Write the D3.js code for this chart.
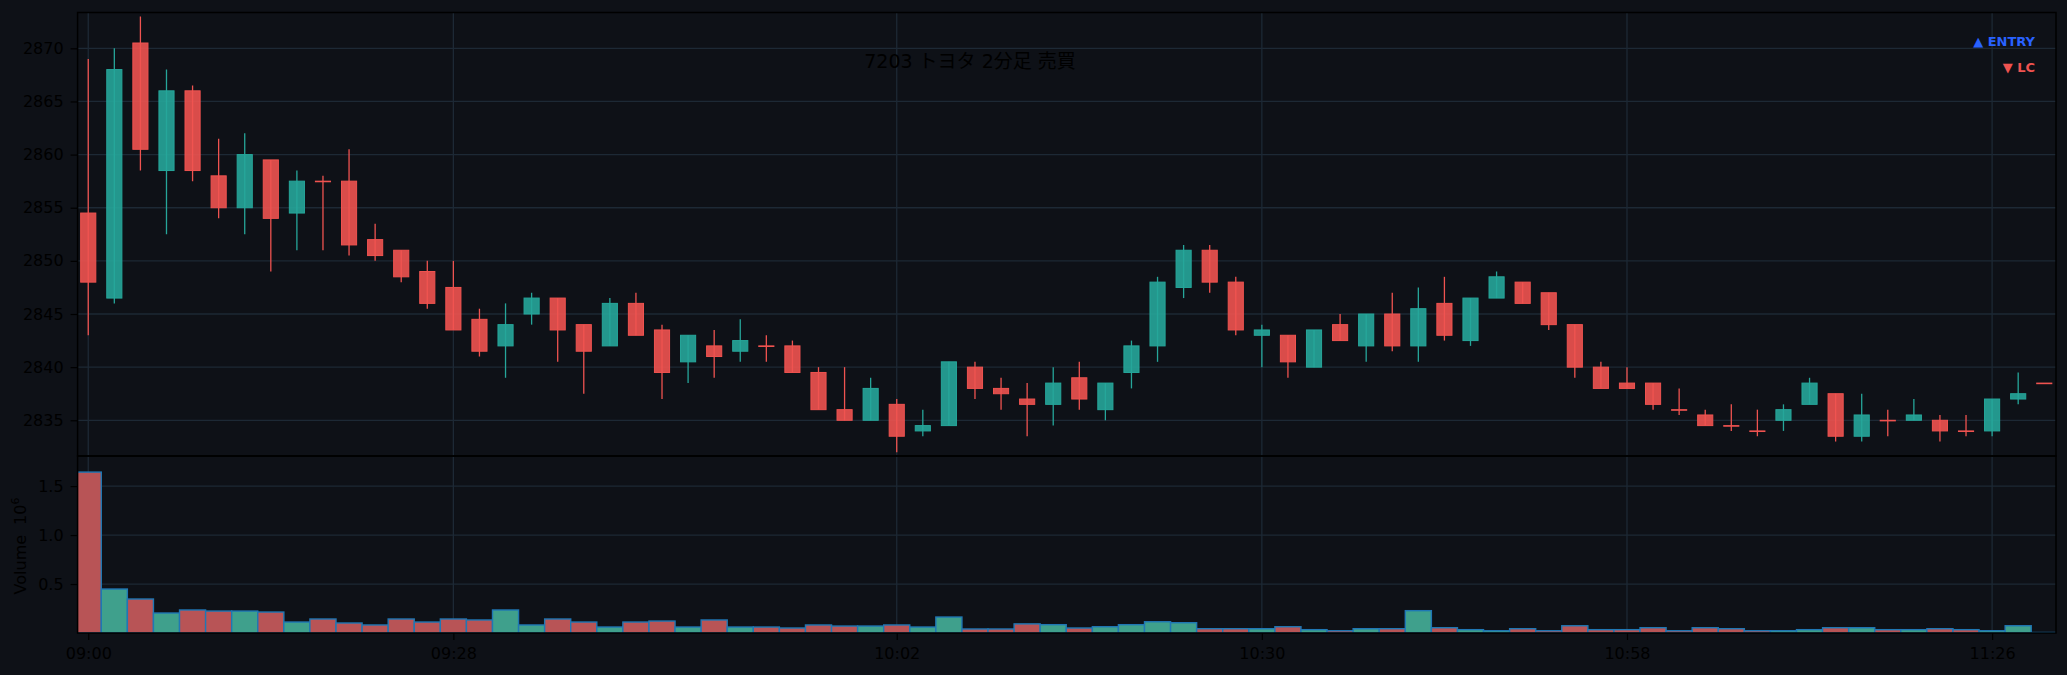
<!DOCTYPE html>
<html>
<head>
<meta charset="utf-8">
<script src="https://cdn.jsdelivr.net/npm/d3@7"></script>
<style>
  html, body { margin: 0; padding: 0; background: #0e1117; }
  svg { display: block; }
</style>
</head>
<body>
<div id="chart"></div>
<script>
// 2分足データ (09:00 - 11:30)
const times = [
  "09:00","09:02","09:04","09:06","09:08","09:10","09:12","09:14","09:16","09:18",
  "09:20","09:22","09:24","09:26","09:28","09:30","09:32","09:34","09:36","09:38",
  "09:40","09:42","09:44","09:46","09:48","09:50","09:52","09:54","09:56","09:58",
  "10:00","10:02","10:04","10:06","10:08","10:10","10:12","10:14","10:16","10:18",
  "10:20","10:22","10:24","10:26","10:28","10:30","10:32","10:34","10:36","10:38",
  "10:40","10:42","10:44","10:46","10:48","10:50","10:52","10:54","10:56","10:58",
  "11:00","11:02","11:04","11:06","11:08","11:10","11:12","11:14","11:16","11:18",
  "11:20","11:22","11:24","11:26","11:28","11:30"
];
const opens = [
  2854.5,2846.5,2870.5,2858.5,2866,2858,2855,2859.5,2854.5,2857.5,
  2857.5,2852,2851,2849,2847.5,2844.5,2842,2845,2846.5,2844,
  2842,2846,2843.5,2840.5,2842,2841.5,2842,2842,2839.5,2836,
  2835,2836.5,2834,2834.5,2840,2838,2837,2836.5,2839,2836,
  2839.5,2842,2847.5,2851,2848,2843,2843,2840,2844,2842,
  2845,2842,2846,2842.5,2846.5,2848,2847,2844,2840,2838.5,
  2838.5,2836,2835.5,2834.5,2834,2835,2836.5,2837.5,2833.5,2835,
  2835,2835,2834,2834,2837,2838.5
];
const highs = [
  2869,2870,2873,2868,2866.5,2861.5,2862,2859.5,2858.5,2858,
  2860.5,2853.5,2851,2850,2850,2845.5,2846,2847,2846.5,2844,
  2846.5,2847,2844,2843,2843.5,2844.5,2843,2842.5,2840,2840,
  2839,2837,2836,2840.5,2840.5,2839,2838.5,2840,2840.5,2838.5,
  2842.5,2848.5,2851.5,2851.5,2848.5,2844,2843,2843.5,2845,2845,
  2847,2847.5,2848.5,2846.5,2849,2848,2847,2844,2840.5,2840,
  2838.5,2838,2836,2836.5,2836,2836.5,2839,2837.5,2837.5,2836,
  2837,2835.5,2835.5,2837,2839.5,2838.5
];
const lows = [
  2843,2846,2858.5,2852.5,2857.5,2854,2852.5,2849,2851,2851,
  2850.5,2850,2848,2845.5,2843.5,2841,2839,2844,2840.5,2837.5,
  2842,2843,2837,2838.5,2839,2840.5,2840.5,2839.5,2836,2835,
  2835,2832,2833.5,2834.5,2837,2836,2833.5,2834.5,2836,2835,
  2838,2840.5,2846.5,2847,2843,2840,2839,2840,2842.5,2840.5,
  2841.5,2840.5,2842.5,2842,2846.5,2846,2843.5,2839,2838,2838,
  2836,2835.5,2834.5,2834,2833.5,2834,2836.5,2833,2833,2833.5,
  2835,2833,2833.5,2833.5,2836.5,2838.5
];
const closes = [
  2848,2868,2860.5,2866,2858.5,2855,2860,2854,2857.5,2857.5,
  2851.5,2850.5,2848.5,2846,2843.5,2841.5,2844,2846.5,2843.5,2841.5,
  2846,2843,2839.5,2843,2841,2842.5,2842,2839.5,2836,2835,
  2838,2833.5,2834.5,2840.5,2838,2837.5,2836.5,2838.5,2837,2838.5,
  2842,2848,2851,2848,2843.5,2843.5,2840.5,2843.5,2842.5,2845,
  2842,2845.5,2843,2846.5,2848.5,2846,2844,2840,2838,2838,
  2836.5,2836,2834.5,2834.5,2834,2836,2838.5,2833.5,2835.5,2835,
  2835.5,2834,2834,2837,2837.5,2838.5
];
const volumes = [
  1643000,449000,347000,204000,235000,224000,224000,214000,112000,143000,
  102000,82000,143000,112000,143000,133000,235000,82000,143000,112000,
  61000,112000,122000,61000,133000,61000,61000,51000,82000,71000,
  71000,82000,61000,163000,41000,41000,93000,85000,51000,64000,
  85000,115000,105000,44000,44000,44000,64000,34000,23000,44000,
  44000,228000,54000,34000,23000,44000,23000,74000,34000,34000,
  54000,23000,54000,44000,23000,23000,34000,54000,54000,34000,
  34000,44000,34000,23000,74000,5000
];

// 目盛り
const xTickLabels = ["09:00", "09:28", "10:02", "10:30", "10:58", "11:26"];
const priceTicks = [2835, 2840, 2845, 2850, 2855, 2860, 2865, 2870];
const volumeTicks = [500000, 1000000, 1500000];

const title = "7203 トヨタ 2分足 売買";

// サイズ
const W = 2067, H = 675;
const left = 77.6, right = 2056;
const topY = 12.5, splitY = 456, bottomY = 633;

const bg = "#0e1117";
const upColor = "#26a69a", downColor = "#ef5350";
const upVol = "#3fa08c", downVol = "#b85456";
const gridColor = "#1d2935";
const font = "'DejaVu Sans', 'Noto Sans CJK JP', sans-serif";

const parseTime = d3.timeParse("%H:%M");
const data = times.map((t, i) => ({
  time: parseTime(t), o: opens[i], h: highs[i], l: lows[i], c: closes[i], v: volumes[i]
}));
const isUp = d => d.c > d.o;

const svg = d3.select("#chart").append("svg").attr("width", W).attr("height", H);
svg.append("rect").attr("width", W).attr("height", H).attr("fill", bg);

// スケール
const x = d3.scaleTime()
  .domain([d3.timeSecond.offset(data[0].time, -49), d3.timeSecond.offset(data[data.length - 1].time, 54)])
  .range([left, right]);

const y = d3.scaleLinear()
  .domain([d3.min(lows) - 0.36, d3.max(highs) + 0.37])
  .range([splitY, topY]);

const yVol = d3.scaleLinear()
  .domain([0, d3.max(volumes) * 1.1])
  .range([bottomY, splitY]);

const xTicks = xTickLabels.map(parseTime);
const barW = x(parseTime("09:02")) - x(parseTime("09:00"));
const bodyW = barW * 0.58;

// clip
const defs = svg.append("defs");
defs.append("clipPath").attr("id", "clipPrice")
  .append("rect").attr("x", left).attr("y", topY).attr("width", right - left).attr("height", splitY - topY);
defs.append("clipPath").attr("id", "clipVol")
  .append("rect").attr("x", left).attr("y", splitY).attr("width", right - left).attr("height", bottomY - splitY);

// グリッド
const grid = svg.append("g").attr("stroke", gridColor).attr("stroke-width", 1.3);
grid.selectAll(".hp").data(priceTicks).join("line")
  .attr("x1", left).attr("x2", right).attr("y1", d => y(d)).attr("y2", d => y(d));
grid.selectAll(".hv").data(volumeTicks).join("line")
  .attr("x1", left).attr("x2", right).attr("y1", d => yVol(d)).attr("y2", d => yVol(d));
grid.selectAll(".vx").data(xTicks).join("line")
  .attr("x1", d => x(d)).attr("x2", d => x(d)).attr("y1", topY).attr("y2", bottomY);

// ローソク足
const price = svg.append("g").attr("clip-path", "url(#clipPrice)");
price.selectAll(".wick").data(data).join("line")
  .attr("x1", d => x(d.time)).attr("x2", d => x(d.time))
  .attr("y1", d => y(d.h)).attr("y2", d => y(d.l))
  .attr("stroke", d => isUp(d) ? upColor : downColor)
  .attr("stroke-width", 1.3);

price.selectAll(".body").data(data).join("rect")
  .attr("x", d => x(d.time) - bodyW / 2)
  .attr("y", d => y(Math.max(d.o, d.c)))
  .attr("width", bodyW)
  .attr("height", d => Math.max(y(Math.min(d.o, d.c)) - y(Math.max(d.o, d.c)), 0.6))
  .attr("fill", d => isUp(d) ? upColor : downColor)
  .attr("fill-opacity", 0.9)
  .attr("stroke", d => isUp(d) ? upColor : downColor)
  .attr("stroke-width", 1);

// 出来高
const vol = svg.append("g").attr("clip-path", "url(#clipVol)");
vol.selectAll("rect").data(data).join("rect")
  .attr("x", d => x(d.time) - barW / 2)
  .attr("y", d => yVol(d.v))
  .attr("width", barW)
  .attr("height", d => yVol(0) - yVol(d.v))
  .attr("fill", d => isUp(d) ? upVol : downVol)
  .attr("stroke", "#1f77b4")
  .attr("stroke-width", 1.4);

// 軸
const styleAxis = g => {
  g.select(".domain").remove();
  g.selectAll("line").attr("stroke", "#000").attr("stroke-width", 1.2);
  g.selectAll("text").attr("fill", "#000").attr("font-size", 16).attr("font-family", font);
};

svg.append("g")
  .attr("transform", `translate(${left},0)`)
  .call(d3.axisLeft(y).tickValues(priceTicks).tickSize(7).tickPadding(7).tickFormat(d3.format("d")))
  .call(styleAxis);

svg.append("g")
  .attr("transform", `translate(${left},0)`)
  .call(d3.axisLeft(yVol).tickValues(volumeTicks).tickSize(7).tickPadding(7).tickFormat(d => (d / 1e6).toFixed(1)))
  .call(styleAxis);

svg.append("g")
  .attr("transform", `translate(0,${bottomY})`)
  .call(d3.axisBottom(x).tickValues(xTicks).tickSize(7).tickPadding(8).tickFormat(d3.timeFormat("%H:%M")))
  .call(styleAxis);

// 枠線
[[topY, splitY], [splitY, bottomY]].forEach(([a, b]) => {
  svg.append("rect")
    .attr("x", left).attr("y", a).attr("width", right - left).attr("height", b - a)
    .attr("fill", "none").attr("stroke", "#000").attr("stroke-width", 1.5);
});

// 出来高ラベル
const vlabel = svg.append("text")
  .attr("transform", "translate(26,546) rotate(-90)")
  .attr("text-anchor", "middle")
  .attr("fill", "#000")
  .attr("font-size", 16)
  .attr("font-family", font);
vlabel.append("tspan").text("Volume");
vlabel.append("tspan").attr("dx", 10).text("10");
vlabel.append("tspan").attr("dy", -7).attr("font-size", 11).text("6");

// タイトル
svg.append("text")
  .attr("x", 970).attr("y", 68)
  .attr("text-anchor", "middle")
  .attr("fill", "#000")
  .attr("font-size", 19)
  .attr("font-family", font)
  .text(title);

// 凡例
const legend = [
  { label: "▲ ENTRY", color: "#2962ff", y: 46 },
  { label: "▼ LC", color: "#ef5350", y: 71.5 }
];
svg.selectAll(".legend").data(legend).join("text")
  .attr("x", 2035).attr("y", d => d.y)
  .attr("text-anchor", "end")
  .attr("fill", d => d.color)
  .attr("font-size", 13)
  .attr("font-weight", "bold")
  .attr("font-family", font)
  .text(d => d.label);
</script>
</body>
</html>
